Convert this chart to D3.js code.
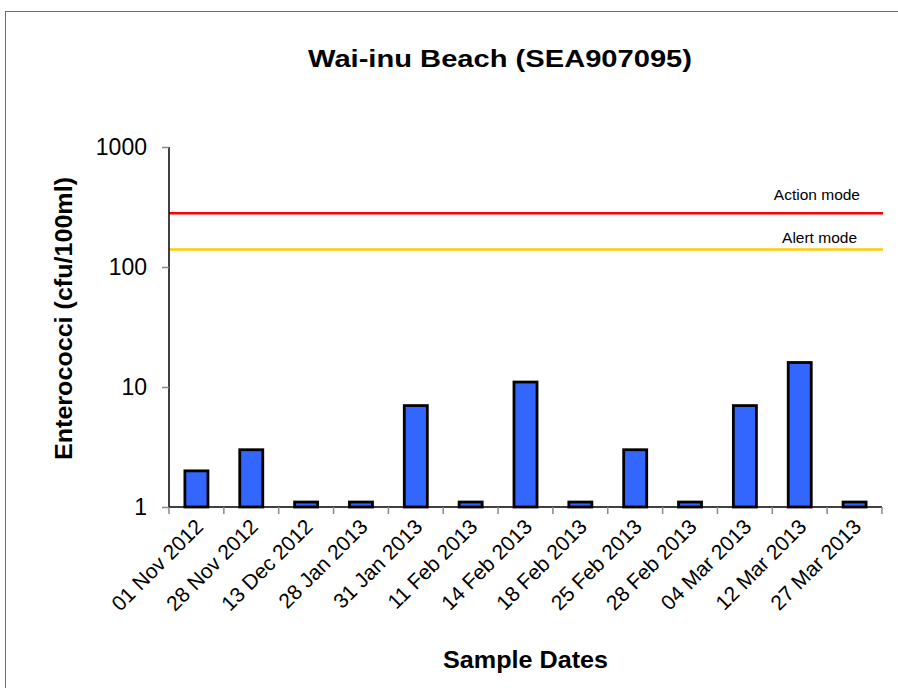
<!DOCTYPE html>
<html>
<head>
<meta charset="utf-8">
<script src="https://cdn.jsdelivr.net/npm/d3@7"></script>
<style>
body { margin: 0; background: #fff; }
text { font-family: Arial, "Liberation Sans", sans-serif; }
</style>
</head>
<body>
<script>
// sample dates and enterococci counts
var dates = ["01 Nov 2012", "28 Nov 2012", "13 Dec 2012", "28 Jan 2013", "31 Jan 2013",
	"11 Feb 2013", "14 Feb 2013", "18 Feb 2013", "25 Feb 2013", "28 Feb 2013",
	"04 Mar 2013", "12 Mar 2013", "27 Mar 2013"];
var counts = [2, 3, 1.1, 1.1, 7, 1.1, 11, 1.1, 3, 1.1, 7, 16, 1.1];
var yTicks = [1, 10, 100, 1000];
var thresholdNames = ["Action mode", "Alert mode"];
var thresholdValues = [280, 140];
var thresholdColors = ["#ff0000", "#ffcc00"];

var width = 898, height = 688;
var plot = {left: 169, right: 882, top: 147, bottom: 507};

var svg = d3.select("body").append("svg")
	.attr("width", width)
	.attr("height", height);

//outer frame, runs off the right and bottom edges
svg.append("rect")
	.attr("x", 5.5).attr("y", 11.5)
	.attr("width", 900).attr("height", 700)
	.attr("fill", "none")
	.attr("stroke", "#6b6b6b");

var x = d3.scaleBand()
	.domain(dates)
	.range([plot.left, plot.right])
	.paddingInner(0.58)
	.paddingOuter(0.29);

var y = d3.scaleLog()
	.domain([1, 1000])
	.range([plot.bottom, plot.top]);

//threshold lines
svg.selectAll(".thresh")
	.data(thresholdValues)
	.enter()
	.append("line")
	.attr("class", "thresh")
	.attr("x1", plot.left).attr("x2", plot.right + 1)
	.attr("y1", function(d){ return y(d); })
	.attr("y2", function(d){ return y(d); })
	.attr("stroke", function(d, i){ return thresholdColors[i]; })
	.attr("stroke-width", 2.5);

var labelRight = [860, 857], labelOffset = [13.5, 6.5];
svg.selectAll(".threshLabel")
	.data(thresholdValues)
	.enter()
	.append("text")
	.attr("class", "threshLabel")
	.attr("x", function(d, i){ return labelRight[i]; })
	.attr("y", function(d, i){ return y(d) - labelOffset[i]; })
	.attr("text-anchor", "end")
	.attr("font-size", 15.5)
	.text(function(d, i){ return thresholdNames[i]; });

//bars
svg.selectAll(".bar")
	.data(counts)
	.enter()
	.append("rect")
	.attr("class", "bar")
	.attr("x", function(d, i){ return x(dates[i]); })
	.attr("width", x.bandwidth())
	.attr("y", function(d){ return y(d); })
	.attr("height", function(d){ return y(1) - y(d); })
	.attr("fill", "#3366ff")
	.attr("stroke", "#000")
	.attr("stroke-width", 2.8);

//y axis
var yAxis = svg.append("g")
	.attr("transform", "translate(" + plot.left + ",0)")
	.call(d3.axisLeft(y).tickValues(yTicks).tickFormat(d3.format("d")).tickSize(7).tickPadding(15));
yAxis.select(".domain").attr("stroke", "#000").attr("stroke-width", 1.5)
	.attr("d", "M0," + plot.top + "V" + plot.bottom);
yAxis.selectAll(".tick line").attr("stroke", "#888").attr("stroke-width", 1.5);
yAxis.selectAll(".tick text")
	.attr("font-size", 23)
	.attr("font-family", "Arial, 'Liberation Sans', sans-serif")
	.attr("fill", "#000");

//x axis, ticks sit between the categories
var xAxis = svg.append("g")
	.attr("transform", "translate(0," + plot.bottom + ")");
xAxis.append("line")
	.attr("x1", plot.left).attr("x2", plot.right)
	.attr("stroke", "#000").attr("stroke-width", 1.5);
xAxis.selectAll(".xtick")
	.data(d3.range(dates.length + 1))
	.enter()
	.append("line")
	.attr("class", "xtick")
	.attr("x1", function(i){ return plot.left + i * (plot.right - plot.left) / dates.length; })
	.attr("x2", function(i){ return plot.left + i * (plot.right - plot.left) / dates.length; })
	.attr("y1", 0).attr("y2", 7)
	.attr("stroke", "#888").attr("stroke-width", 1.5);
xAxis.selectAll(".xlabel")
	.data(dates)
	.enter()
	.append("text")
	.attr("class", "xlabel")
	.attr("text-anchor", "end")
	.attr("font-size", 21)
	.attr("transform", function(d){
		var cx = x(d) + x.bandwidth() / 2 + 8;
		return "translate(" + cx + ",21) rotate(-45)";
	})
	.text(function(d){ return d; });

//titles
svg.append("text")
	.attr("x", 308).attr("y", 67)
	.attr("font-size", 24)
	.attr("font-weight", "bold")
	.attr("textLength", 384)
	.attr("lengthAdjust", "spacingAndGlyphs")
	.text("Wai-inu Beach (SEA907095)");

svg.append("text")
	.attr("transform", "translate(72,460) rotate(-90)")
	.attr("font-size", 23)
	.attr("font-weight", "bold")
	.attr("textLength", 283)
	.attr("lengthAdjust", "spacingAndGlyphs")
	.text("Enterococci (cfu/100ml)");

svg.append("text")
	.attr("x", 443).attr("y", 668)
	.attr("font-size", 24)
	.attr("font-weight", "bold")
	.attr("textLength", 165)
	.attr("lengthAdjust", "spacingAndGlyphs")
	.text("Sample Dates");
</script>
</body>
</html>
